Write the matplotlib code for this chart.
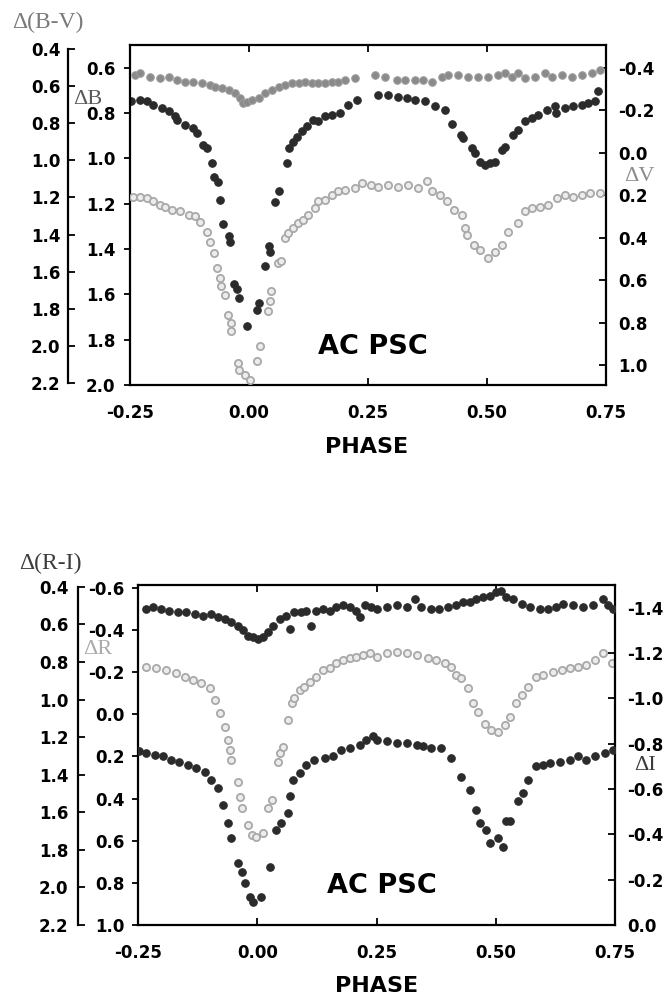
import matplotlib
matplotlib.use('Agg')
import matplotlib.pyplot as plt
from matplotlib.ticker import FormatStrFormatter

plt.rcParams['axes.unicode_minus'] = False

# ---------------- top panel: AC Psc in B, V and B-V ----------------
phase_b = [-0.247, -0.229, -0.215, -0.201, -0.183, -0.169, -0.155, -0.152, -0.134, -0.117,
           -0.110, -0.096, -0.089, -0.077, -0.073, -0.066, -0.061, -0.054, -0.043, -0.040,
           -0.031, -0.026, -0.021, -0.005, 0.016, 0.020, 0.034, 0.041, 0.044, 0.055,
           0.063, 0.079, 0.083, 0.093, 0.100, 0.111, 0.121, 0.135, 0.146, 0.160,
           0.174, 0.191, 0.209, 0.226, 0.272, 0.293, 0.314, 0.331, 0.349, 0.370,
           0.391, 0.412, 0.427, 0.445, 0.450, 0.468, 0.475, 0.485, 0.496, 0.506,
           0.517, 0.531, 0.538, 0.555, 0.566, 0.580, 0.594, 0.608, 0.625, 0.643,
           0.646, 0.664, 0.681, 0.699, 0.713, 0.727, 0.734]
delta_b = [0.748, 0.741, 0.748, 0.763, 0.778, 0.793, 0.815, 0.830, 0.852, 0.867,
           0.889, 0.941, 0.956, 1.022, 1.081, 1.104, 1.185, 1.289, 1.341, 1.370,
           1.556, 1.578, 1.615, 1.738, 1.667, 1.637, 1.474, 1.385, 1.415, 1.193,
           1.145, 1.022, 0.956, 0.926, 0.904, 0.881, 0.859, 0.830, 0.837, 0.815,
           0.807, 0.800, 0.763, 0.741, 0.719, 0.719, 0.730, 0.733, 0.741, 0.748,
           0.770, 0.785, 0.848, 0.896, 0.911, 0.956, 0.978, 1.015, 1.030, 1.022,
           1.015, 0.963, 0.948, 0.896, 0.874, 0.837, 0.822, 0.807, 0.785, 0.770,
           0.800, 0.778, 0.770, 0.763, 0.756, 0.748, 0.704]

phase_v = [-0.243, -0.229, -0.215, -0.201, -0.187, -0.176, -0.162, -0.145, -0.127, -0.113,
           -0.103, -0.089, -0.082, -0.073, -0.068, -0.061, -0.058, -0.051, -0.044, -0.037,
           -0.037, -0.023, -0.020, -0.009, 0.002, 0.016, 0.023, 0.040, 0.044, 0.047,
           0.061, 0.068, 0.075, 0.082, 0.093, 0.103, 0.114, 0.124, 0.138, 0.145,
           0.160, 0.174, 0.188, 0.202, 0.223, 0.237, 0.256, 0.272, 0.293, 0.314,
           0.335, 0.356, 0.374, 0.384, 0.402, 0.416, 0.430, 0.447, 0.454, 0.458,
           0.472, 0.486, 0.503, 0.517, 0.531, 0.545, 0.566, 0.580, 0.594, 0.612,
           0.629, 0.647, 0.664, 0.681, 0.699, 0.717, 0.738]
delta_v = [0.206, 0.206, 0.214, 0.229, 0.245, 0.253, 0.269, 0.276, 0.292, 0.300,
           0.324, 0.371, 0.418, 0.473, 0.543, 0.590, 0.629, 0.669, 0.763, 0.802,
           0.841, 0.990, 1.022, 1.045, 1.069, 0.982, 0.912, 0.747, 0.700, 0.653,
           0.520, 0.512, 0.402, 0.379, 0.355, 0.331, 0.316, 0.292, 0.261, 0.229,
           0.221, 0.198, 0.182, 0.174, 0.167, 0.143, 0.151, 0.159, 0.151, 0.159,
           0.151, 0.167, 0.135, 0.182, 0.198, 0.229, 0.269, 0.292, 0.355, 0.386,
           0.433, 0.457, 0.496, 0.465, 0.433, 0.371, 0.331, 0.276, 0.261, 0.253,
           0.245, 0.214, 0.198, 0.206, 0.198, 0.190, 0.190]

phase_bv = [-0.240, -0.229, -0.208, -0.187, -0.169, -0.152, -0.134, -0.117, -0.099, -0.082,
            -0.071, -0.057, -0.043, -0.029, -0.019, -0.012, -0.005, 0.006, 0.020, 0.034,
            0.048, 0.062, 0.076, 0.090, 0.104, 0.118, 0.132, 0.146, 0.160, 0.174,
            0.188, 0.202, 0.223, 0.265, 0.286, 0.310, 0.328, 0.349, 0.366, 0.384,
            0.405, 0.419, 0.440, 0.461, 0.482, 0.503, 0.524, 0.538, 0.552, 0.566,
            0.580, 0.601, 0.622, 0.636, 0.657, 0.678, 0.699, 0.720, 0.738]
delta_bv = [0.540, 0.531, 0.549, 0.558, 0.549, 0.567, 0.576, 0.576, 0.585, 0.594,
            0.603, 0.612, 0.621, 0.639, 0.666, 0.693, 0.684, 0.675, 0.666, 0.639,
            0.621, 0.603, 0.594, 0.585, 0.585, 0.576, 0.585, 0.585, 0.585, 0.576,
            0.576, 0.567, 0.558, 0.540, 0.549, 0.567, 0.567, 0.567, 0.567, 0.576,
            0.549, 0.540, 0.540, 0.549, 0.549, 0.549, 0.540, 0.531, 0.549, 0.531,
            0.558, 0.549, 0.531, 0.549, 0.540, 0.549, 0.540, 0.531, 0.513]

# ---------------- bottom panel: AC Psc in R, I and R-I ----------------
phase_r = [-0.233, -0.212, -0.191, -0.170, -0.152, -0.135, -0.117, -0.100, -0.089, -0.079,
           -0.068, -0.061, -0.058, -0.054, -0.040, -0.037, -0.033, -0.019, -0.012, -0.002,
           0.012, 0.023, 0.030, 0.044, 0.047, 0.054, 0.065, 0.072, 0.078, 0.089,
           0.099, 0.110, 0.124, 0.138, 0.152, 0.166, 0.180, 0.194, 0.208, 0.222,
           0.236, 0.250, 0.271, 0.292, 0.313, 0.334, 0.358, 0.375, 0.393, 0.407,
           0.417, 0.428, 0.442, 0.452, 0.463, 0.477, 0.491, 0.505, 0.519, 0.529,
           0.543, 0.554, 0.568, 0.585, 0.599, 0.620, 0.638, 0.655, 0.673, 0.690,
           0.708, 0.725, 0.743]
delta_r = [-0.226, -0.219, -0.211, -0.195, -0.179, -0.163, -0.147, -0.124, -0.068, -0.005,
           0.058, 0.122, 0.169, 0.217, 0.320, 0.391, 0.446, 0.525, 0.573, 0.581,
           0.565, 0.446, 0.407, 0.225, 0.185, 0.154, 0.026, -0.053, -0.076, -0.116,
           -0.132, -0.155, -0.179, -0.211, -0.219, -0.242, -0.258, -0.266, -0.274, -0.282,
           -0.290, -0.274, -0.290, -0.298, -0.290, -0.282, -0.266, -0.258, -0.242, -0.226,
           -0.187, -0.171, -0.124, -0.053, -0.013, 0.045, 0.074, 0.082, 0.050, 0.011,
           -0.053, -0.092, -0.132, -0.179, -0.187, -0.203, -0.211, -0.219, -0.226, -0.234,
           -0.258, -0.290, -0.242]

phase_i = [-0.247, -0.233, -0.215, -0.198, -0.180, -0.163, -0.145, -0.128, -0.110, -0.096,
           -0.082, -0.071, -0.061, -0.054, -0.040, -0.033, -0.026, -0.016, -0.009, 0.008,
           0.026, 0.040, 0.050, 0.064, 0.068, 0.075, 0.089, 0.103, 0.120, 0.141,
           0.159, 0.176, 0.194, 0.215, 0.229, 0.243, 0.250, 0.271, 0.292, 0.313,
           0.334, 0.348, 0.365, 0.386, 0.407, 0.428, 0.445, 0.459, 0.466, 0.480,
           0.487, 0.505, 0.515, 0.522, 0.529, 0.547, 0.557, 0.568, 0.585, 0.599,
           0.613, 0.634, 0.655, 0.673, 0.690, 0.708, 0.729, 0.746]
delta_i = [-0.766, -0.758, -0.751, -0.744, -0.729, -0.721, -0.707, -0.692, -0.677, -0.641,
           -0.604, -0.530, -0.449, -0.383, -0.273, -0.236, -0.184, -0.125, -0.103, -0.125,
           -0.258, -0.420, -0.449, -0.494, -0.567, -0.641, -0.670, -0.707, -0.729, -0.736,
           -0.744, -0.773, -0.780, -0.795, -0.817, -0.832, -0.817, -0.810, -0.802, -0.802,
           -0.795, -0.788, -0.780, -0.780, -0.736, -0.655, -0.596, -0.508, -0.449, -0.420,
           -0.361, -0.383, -0.346, -0.457, -0.457, -0.545, -0.582, -0.641, -0.700, -0.707,
           -0.714, -0.721, -0.729, -0.744, -0.729, -0.744, -0.758, -0.773]

phase_ri = [-0.233, -0.219, -0.201, -0.184, -0.166, -0.149, -0.131, -0.114, -0.096, -0.082,
            -0.068, -0.054, -0.040, -0.030, -0.019, -0.009, 0.002, 0.012, 0.023, 0.033,
            0.047, 0.061, 0.068, 0.078, 0.092, 0.103, 0.113, 0.124, 0.138, 0.152,
            0.166, 0.180, 0.194, 0.208, 0.215, 0.225, 0.239, 0.250, 0.271, 0.292,
            0.313, 0.330, 0.344, 0.365, 0.382, 0.400, 0.417, 0.431, 0.445, 0.459,
            0.473, 0.487, 0.501, 0.512, 0.522, 0.536, 0.554, 0.571, 0.592, 0.610,
            0.627, 0.641, 0.662, 0.683, 0.704, 0.725, 0.735, 0.746]
delta_ri = [0.517, 0.508, 0.517, 0.526, 0.535, 0.535, 0.544, 0.553, 0.544, 0.561,
            0.570, 0.588, 0.606, 0.632, 0.659, 0.668, 0.677, 0.668, 0.641, 0.606,
            0.570, 0.553, 0.623, 0.535, 0.535, 0.526, 0.606, 0.526, 0.517, 0.526,
            0.508, 0.499, 0.508, 0.526, 0.561, 0.499, 0.508, 0.517, 0.508, 0.499,
            0.508, 0.464, 0.508, 0.517, 0.517, 0.508, 0.499, 0.482, 0.482, 0.464,
            0.455, 0.446, 0.428, 0.420, 0.455, 0.464, 0.490, 0.508, 0.517, 0.517,
            0.508, 0.490, 0.499, 0.508, 0.499, 0.464, 0.499, 0.517]

phase_ticks = [-0.25, 0.0, 0.25, 0.50, 0.75]

W, H = 664, 1001
fig = plt.figure(figsize=(W / 100, H / 100), dpi=100)


def fx(x):
    return x / W


def fy(y):
    return 1 - y / H


def tick_labels(ax, axis):
    for lab in (ax.get_xticklabels() if axis == 'x' else ax.get_yticklabels()):
        lab.set_fontweight('bold')
        lab.set_fontsize(12)


def build_panel(box, inner, right, outer, outer_offset, pads):
    # box = (left, top, right, bottom) in pixels
    l, t, r, b = box
    ax = fig.add_axes([fx(l), fy(b), (r - l) / W, (b - t) / H])
    ax_r = ax.twinx()
    ax_o = ax.twinx()

    ax.set_xlim(-0.25, 0.75)
    ax.set_xticks(phase_ticks)
    ax.xaxis.set_major_formatter(FormatStrFormatter('%.2f'))
    ax.tick_params(axis='x', direction='in', top=True, length=5, width=1.3, pad=14)
    for s in ax.spines.values():
        s.set_linewidth(1.6)

    # inner left axis
    ax.set_ylim(*inner[0])
    ax.set_yticks(inner[1])
    ax.yaxis.set_major_formatter(FormatStrFormatter('%.1f'))
    ax.tick_params(axis='y', direction='out', length=4, width=1.3, pad=pads[0])

    # right axis
    ax_r.set_ylim(*right[0])
    ax_r.set_yticks(right[1])
    ax_r.yaxis.set_major_formatter(FormatStrFormatter('%.1f'))
    ax_r.tick_params(axis='y', direction='in', length=5, width=1.3, pad=pads[1])
    for s in ax_r.spines.values():
        s.set_visible(False)

    # outer left axis
    ax_o.set_ylim(*outer[0])
    ax_o.set_yticks(outer[1])
    ax_o.yaxis.set_major_formatter(FormatStrFormatter('%.1f'))
    ax_o.yaxis.tick_left()
    for name, s in ax_o.spines.items():
        s.set_visible(name == 'left')
    ax_o.spines['left'].set_position(('outward', outer_offset))
    ax_o.spines['left'].set_bounds(outer[1][0], outer[1][-1])
    ax_o.spines['left'].set_linewidth(1.6)
    ax_o.tick_params(axis='y', direction='in', length=5, width=1.3, pad=pads[2])

    tick_labels(ax, 'x')
    for a in (ax, ax_r, ax_o):
        tick_labels(a, 'y')
    return ax, ax_r, ax_o


ticks = lambda a, b: [round(a + 0.2 * k, 1) for k in range(int(round((b - a) / 0.2)) + 1)]

filled_dark = dict(ls='none', marker='o', ms=5.4, mfc='#2b2b2b', mec='#2b2b2b', mew=0.8)
filled_grey = dict(ls='none', marker='o', ms=5.4, mfc='#8a8a8a', mec='#9c9c9c', mew=0.8)
open_grey = dict(ls='none', marker='o', ms=5.2, mfc='#ececec', mec='#a9a9a9', mew=1.3)

# ---- top panel
ax1, ax1r, ax1o = build_panel((130, 45, 606, 385),
                              ((2.0, 0.5), ticks(0.6, 2.0)),
                              ((1.094, -0.508), ticks(-0.4, 1.0)),
                              ((2.211, 0.378), ticks(0.4, 2.2)),
                              44.6, (6.5, 8.5, 5.5))
ax1.plot(phase_b, delta_b, **filled_dark)
ax1r.plot(phase_v, delta_v, **open_grey)
ax1o.plot(phase_bv, delta_bv, **filled_grey)

# ---- bottom panel
ax2, ax2r, ax2o = build_panel((138, 585, 615, 925),
                              ((1.0, -0.614), ticks(-0.6, 1.0)),
                              ((0.0, -1.50), ticks(-1.4, 0.0)),
                              ((2.2, 0.39), ticks(0.4, 2.2)),
                              43.2, (5.5, 8.5, 7.0))
ax2.plot(phase_r, delta_r, **open_grey)
ax2r.plot(phase_i, delta_i, **filled_dark)
ax2o.plot(phase_ri, delta_ri, **filled_dark)

# ---- texts (baseline positions in pixels)
serif = ['Liberation Serif', 'DejaVu Serif']
labels = [
    (48, 28, '\u0394(B-V)', 17, '#7a7a7a'),
    (88, 104, '\u0394B', 16, '#5a5a5a'),
    (639, 181, '\u0394V', 16, '#8c8c8c'),
    (50, 569, '\u0394(R-I)', 17, '#3c3c3c'),
    (98, 654, '\u0394R', 16, '#ababab'),
    (645, 770, '\u0394I', 16, '#3c3c3c'),
]
for cx, by, txt, size, col in labels:
    fig.text(fx(cx), fy(by), txt, family=serif, size=size, color=col,
             ha='center', va='baseline')

for cx, cy in ((373, 347), (382, 886)):
    fig.text(fx(cx), fy(cy), 'AC PSC', size=19.5, weight='bold', ha='center', va='center')
for cx, cy in ((367, 447), (377, 986)):
    fig.text(fx(cx), fy(cy), 'PHASE', size=16, weight='bold', ha='center', va='center')

fig.savefig('out.png', dpi=100)
